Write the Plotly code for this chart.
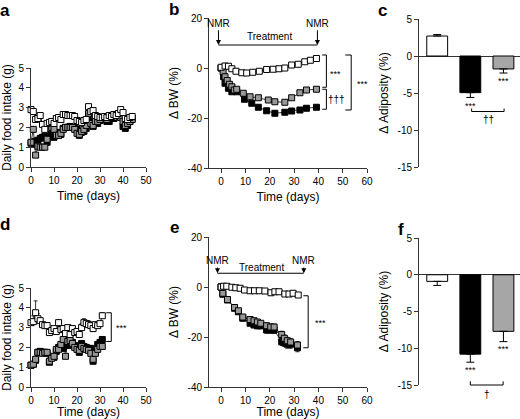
import plotly.graph_objects as go

W, H = 520, 419

# ---------------- DATA ----------------
# Panel a: daily food intake (g), days 0..44
a_days = list(range(0, 45))
a_white = [2.9, 2.8, 2.4, 2.45, 2.6, 2.15, 1.9, 2.2, 2.25, 2.3, 2.2, 2.45, 2.5, 2.4, 2.65, 2.65, 2.6, 2.6,
           2.6, 2.55, 2.35, 2.3, 2.25, 2.35, 2.4, 3.05, 2.8, 2.85, 2.6, 2.55, 2.5, 2.5, 2.55, 2.5, 2.6, 2.55,
           2.65, 2.6, 2.7, 2.9, 2.75, 2.45, 2.4, 2.5, 2.55]
a_black = [1.2, 1.15, 1.3, 1.35, 1.45, 1.5, 1.55, 1.25, 1.55, 1.65, 1.5, 1.75, 1.6, 1.65, 1.95, 2.0, 2.0, 2.05,
           2.0, 2.0, 1.9, 1.6, 1.75, 1.8, 1.95, 2.65, 2.3, 2.05, 2.2, 2.2, 2.35, 2.45, 2.5, 2.3, 2.3, 2.5,
           2.45, 2.6, 2.55, 2.5, 2.05, 1.95, 2.1, 2.3, 2.45]
a_gray = [1.25, 1.9, 0.6, 1.05, 1.0, 1.0, 1.0, 1.4, 1.95, 2.0, 1.9, 1.6, 1.6, 1.7, 1.9, 2.0, 2.0, 2.0,
          2.0, 1.9, 1.7, 1.65, 1.8, 1.9, 2.1, 2.7, 2.2, 2.1, 2.3, 2.3, 2.4, 2.5, 2.5, 2.4, 2.5, 2.5,
          2.5, 2.6, 2.7, 2.5, 2.3, 2.1, 2.2, 2.3, 2.4]

# Panel b: change in body weight (%)
b_white_days = [0, 1.6, 3, 4.4, 6.1, 8.5, 10.5, 13, 15.7, 18.7, 21.4, 23.8, 26.2, 29, 31.7, 34.4, 36.7, 39.2]
b_white = [0.3, 0.8, 0.7, -0.3, -1.3, -1.9, -2.0, -1.7, -1.3, -0.6, -0.5, -0.3, 0.0, 1.2, 1.5, 2.5, 3.1, 3.8]
b_gray_days = [0, 0.8, 1.6, 2.5, 3.4, 4.4, 5.4, 6.4, 9.1, 11.9, 15.3, 19.4, 22.1, 26.2, 29, 32.4, 35.1, 39.2]
b_gray = [0, -1.5, -3.5, -5.0, -6.5, -7.5, -8.8, -8.5, -10.1, -11.5, -11.9, -12.8, -13.5, -13.7, -11.9, -9.9, -8.8, -8.5]
b_black_days = [0, 1, 1.6, 3, 4.4, 6.4, 9.6, 12.6, 15.3, 18.7, 22.1, 26.2, 29, 32.4, 35.1, 39.2]
b_black = [0, -3.5, -6.1, -8.1, -9.5, -9.5, -12.5, -14.1, -15.7, -17.1, -18.1, -17.7, -17.2, -16.8, -16.1, -15.7]

# Panel c: change in adiposity (%)
groups = ["Control", "Treatment A", "Treatment B"]
c_vals = [2.7, -4.95, -1.75]
c_err = [0.2, 0.65, 0.55]

# Panel d: daily food intake (g), days 0..31
d_days = list(range(0, 32))
d_white = [3.25, 3.3, 3.75, 3.45, 3.35, 3.15, 3.1, 3.1, 2.75, 2.85, 2.95, 2.8, 3.25, 2.9, 2.95, 2.7, 3.0, 2.65,
           2.95, 2.75, 2.8, 2.65, 3.0, 3.25, 3.2, 3.15, 3.1, 2.95, 3.15, 3.1, 3.2, 3.6]
d_white_err = [0.15, 0.3, 0.6, 0.25, 0.1, 0.1, 0.1, 0.1, 0.1, 0.1, 0.1, 0.1, 0.15, 0.1, 0.1, 0.1, 0.1, 0.1,
               0.1, 0.1, 0.1, 0.1, 0.2, 0.2, 0.1, 0.2, 0.1, 0.3, 0.1, 0.1, 0.1, 0.15]
d_black = [1.1, 1.15, 1.35, 1.75, 1.8, 1.75, 1.75, 1.7, 1.25, 1.5, 1.5, 1.8, 2.0, 2.05, 1.95, 2.35, 2.1, 2.3,
           2.25, 2.1, 1.95, 1.75, 2.2, 2.05, 2.0, 1.95, 1.95, 1.3, 1.75, 2.15, 2.25, 2.4]
d_gray = [1.1, 1.15, 1.4, 1.75, 1.75, 1.7, 1.75, 1.75, 1.3, 1.45, 1.55, 1.9, 1.9, 2.15, 2.4, 1.55, 2.3, 2.35,
          2.2, 2.0, 1.9, 1.85, 2.05, 1.95, 1.9, 1.85, 1.7, 1.4, 1.7, 1.9, 2.05, 2.05]

# Panel e: change in body weight (%)
e_white_days = [0, 1, 2.3, 4.4, 6, 7.8, 9.6, 11.9, 13.7, 15.7, 18, 20.5, 22.1, 23.8, 26.2, 27.9, 29.6, 31.7]
e_white = [0, 0.3, 0.3, -0.1, -0.3, -0.5, -1.2, -1.5, -1.5, -1.5, -1.6, -2.3, -1.9, -1.9, -2.8, -2.8, -2.5, -3.2]
e_days = [0, 0.7, 2.6, 5.5, 7.1, 8.9, 11.9, 13.5, 14.9, 16.3, 18.7, 20.4, 21.8, 24.9, 26, 27.2, 28.6, 31.4]
e_black = [0, -2.9, -5.2, -8.5, -9.9, -12.5, -14.5, -15.2, -15.5, -15.5, -17.2, -17.2, -17.2, -21.9, -22.3, -22.9, -22.9, -24.3]
e_black_err = [0, 0, 0, 0.3, 0.3, 0.4, 0.8, 1.0, 1.2, 1.2, 1.3, 1.3, 1.3, 1.5, 1.5, 1.6, 1.6, 1.6]
e_gray = [0, -2.5, -5.0, -8.2, -9.5, -12.0, -13.0, -13.5, -14.0, -14.5, -15.5, -16.0, -16.0, -19.0, -20.5, -21.5, -22.0, -23.2]
e_gray_err = [0, 0, 0, 0.3, 0.3, 0.4, 0.8, 1.0, 1.0, 1.0, 1.2, 1.2, 1.2, 1.3, 1.3, 1.4, 1.4, 1.4]

# Panel f: change in adiposity (%)
f_vals = [-0.9, -10.8, -7.7]
f_err = [0.55, 1.1, 1.4]

# Tick labels
intake_ticks = [0, 1, 2, 3, 4, 5]
time_ticks = [0, 10, 20, 30, 40, 50]
bw_time_ticks = [0, 10, 20, 30, 40, 50, 60]
bw_ticks = [-40, -20, 0, 20]
bw_ticktext = ["-40", "-20", "0", "20"]
adip_ticks = [-15, -10, -5, 0, 5]
adip_ticktext = ["-15", "-10", "-5", "0", "5"]

# ---------------- STYLE / LAYOUT ----------------
FONT = "Liberation Sans, Arial, sans-serif"
WHITE, GRAY, BLACK = "#ffffff", "#999999", "#000000"
AXC = "#333333"


def dx(l, r):
    return [l / W, r / W]


def dy(top, bottom):
    return [1 - bottom / H, 1 - top / H]


AX = {
    "x": (dx(31, 146), [0, 50]), "y": (dy(68, 167), [0, 5]),
    "x2": (dx(209, 367), [-5, 60]), "y2": (dy(18, 168), [-40, 20]),
    "x3": (dx(419, 520), [-0.55, 2.5]), "y3": (dy(19, 167), [-15, 5]),
    "x4": (dx(31, 146), [0, 50]), "y4": (dy(288, 387), [0, 5]),
    "x5": (dx(209, 367), [-5, 60]), "y5": (dy(237, 387), [-40, 20]),
    "x6": (dx(419, 520), [-0.55, 2.5]), "y6": (dy(238, 385), [-15, 5]),
}


def P(ax, v):
    dom, rng = AX[ax]
    return dom[0] + (v - rng[0]) / (rng[1] - rng[0]) * (dom[1] - dom[0])


fig = go.Figure()


def series(x, y, fill, xa, ya, err=None, line=True):
    kw = {}
    if err is not None:
        kw["error_y"] = dict(type="data", array=err, arrayminus=[0] * len(err) if xa == "x4" else err,
                             symmetric=False, color="#000", thickness=0.8, width=2)
    fig.add_trace(go.Scatter(
        x=x, y=y, xaxis=xa, yaxis=ya, mode="lines+markers" if line else "markers",
        line=dict(color="#000", width=0.8),
        marker=dict(symbol="square", size=6, color=fill, line=dict(color="#000", width=1)),
        showlegend=False, cliponaxis=False, hoverinfo="skip", **kw))


# panel a
series(a_days, a_black, BLACK, "x", "y")
series(a_days, a_gray, GRAY, "x", "y")
series(a_days, a_white, WHITE, "x", "y")
# panel b
series(b_black_days, b_black, BLACK, "x2", "y2")
series(b_gray_days, b_gray, GRAY, "x2", "y2")
series(b_white_days, b_white, WHITE, "x2", "y2")
# panel d
series(d_days, d_black, BLACK, "x4", "y4")
series(d_days, d_gray, GRAY, "x4", "y4")
series(d_days, d_white, WHITE, "x4", "y4", err=d_white_err)
# panel e
series(e_days, e_black, BLACK, "x5", "y5", err=e_black_err)
series(e_days, e_gray, GRAY, "x5", "y5", err=e_gray_err)
series(e_white_days, e_white, WHITE, "x5", "y5")


def bars(vals, errs, xa, ya):
    up = [e if v > 0 else 0 for v, e in zip(vals, errs)]
    dn = [e if v < 0 else 0 for v, e in zip(vals, errs)]
    fig.add_trace(go.Bar(
        x=groups, y=vals, xaxis=xa, yaxis=ya, width=0.63,
        marker=dict(color=[WHITE, BLACK, "#a6a6a6"], line=dict(color="#000", width=1)),
        error_y=dict(type="data", array=up, arrayminus=dn, symmetric=False,
                     color="#000", thickness=1, width=4),
        showlegend=False, hoverinfo="skip"))


bars(c_vals, c_err, "x3", "y3")
bars(f_vals, f_err, "x6", "y6")

tickfont = dict(family=FONT, size=10, color="#000")
titlefont = dict(family=FONT, size=12, color="#000")
common = dict(showline=True, linecolor=AXC, linewidth=1, ticks="outside", ticklen=4, tickwidth=1,
              tickcolor=AXC, showgrid=False, zeroline=False, tickfont=tickfont, fixedrange=True,
              automargin=False)

layout = dict(
    width=W, height=H, margin=dict(l=0, r=0, t=0, b=0, autoexpand=False),
    paper_bgcolor="white", plot_bgcolor="white", font=dict(family=FONT, color="#000"),
    bargap=0, hovermode=False,
)
for xa, ya, kind in [("x", "y", "intake"), ("x4", "y4", "intake"),
                     ("x2", "y2", "bw"), ("x5", "y5", "bw")]:
    xn = "xaxis" + xa[1:]
    yn = "yaxis" + ya[1:]
    xtv = time_ticks if kind == "intake" else bw_time_ticks
    layout[xn] = dict(domain=AX[xa][0], range=AX[xa][1], anchor=ya, tickvals=xtv,
                      title=dict(text="Time (days)", font=titlefont, standoff=6), **common)
    if kind == "intake":
        layout[yn] = dict(domain=AX[ya][0], range=AX[ya][1], anchor=xa, tickvals=intake_ticks,
                          title=dict(text="Daily food intake (g)", font=titlefont, standoff=6), **common)
    else:
        layout[yn] = dict(domain=AX[ya][0], range=AX[ya][1], anchor=xa, tickvals=bw_ticks,
                          ticktext=bw_ticktext,
                          title=dict(text="Δ BW (%)", font=titlefont, standoff=6), **common)
for xa, ya in [("x3", "y3"), ("x6", "y6")]:
    xn = "xaxis" + xa[1:]
    yn = "yaxis" + ya[1:]
    layout[xn] = dict(domain=AX[xa][0], range=AX[xa][1], anchor=ya, visible=False, fixedrange=True,
                      automargin=False)
    c2 = dict(common)
    c2["zeroline"] = True
    c2["zerolinecolor"] = AXC
    c2["zerolinewidth"] = 1
    layout[yn] = dict(domain=AX[ya][0], range=AX[ya][1], anchor=xa, tickvals=adip_ticks,
                      ticktext=adip_ticktext,
                      title=dict(text="Δ Adiposity (%)", font=titlefont, standoff=6), **c2)

fig.update_layout(**layout)

shapes = []
annots = []
LINE = dict(color="#000", width=1)


def seg(xa, ya, x0, y0, x1, y1):
    shapes.append(dict(type="line", xref="paper", yref="paper",
                       x0=P(xa, x0), y0=P(ya, y0), x1=P(xa, x1), y1=P(ya, y1), line=LINE))


def vbracket(xa, ya, x, y0, y1, xt):
    seg(xa, ya, x, y0, x, y1)
    seg(xa, ya, xt, y0, x, y0)
    seg(xa, ya, xt, y1, x, y1)


def hbracket(xa, ya, x0, x1, y, yt):
    seg(xa, ya, x0, y, x1, y)
    seg(xa, ya, x0, y, x0, yt)
    seg(xa, ya, x1, y, x1, yt)


def text(xa, ya, x, y, s, size=10):
    # placed in paper coordinates so that texts outside an axis range still show
    annots.append(dict(x=P(xa, x), y=P(ya, y), xref="paper", yref="paper", text=s, showarrow=False,
                       xanchor="center", yanchor="middle",
                       font=dict(family=FONT, size=size, color="#000")))


def arrow(xa, ya, x, ytip, ytext):
    annots.append(dict(x=x, y=ytip, xref=xa, yref=ya, ax=x, ay=ytext, axref=xa, ayref=ya,
                       text="NMR", showarrow=True, arrowhead=2, arrowsize=1, arrowwidth=1,
                       arrowcolor="#000", standoff=0, startstandoff=0,
                       font=dict(family=FONT, size=10, color="#000")))


# panel b annotations
arrow("x2", "y2", -1.1, 9.2, 17.9)
arrow("x2", "y2", 39.6, 9.2, 17.9)
seg("x2", "y2", -1.1, 9.2, 39.6, 9.2)
text("x2", "y2", 20, 12.4, "Treatment")
vbracket("x2", "y2", 43.3, 5.2, -7.7, 41.6)
vbracket("x2", "y2", 43.3, -8.5, -16.5, 41.6)
vbracket("x2", "y2", 53.5, 5.2, -16.8, 51.1)
text("x2", "y2", 47, -2.2, "***", 9)
text("x2", "y2", 47.6, -12.5, "†††", 10)
text("x2", "y2", 58.3, -6.4, "***", 9)

# panel e annotations
arrow("x5", "y5", -1.5, 5.5, 10.6)
arrow("x5", "y5", 34.0, 5.5, 10.6)
seg("x5", "y5", -1.5, 5.5, 34.0, 5.5)
text("x5", "y5", 16.5, 7.9, "Treatment")
vbracket("x5", "y5", 35.8, -3.5, -24.3, 33.8)
text("x5", "y5", 41, -14.3, "***", 9)

# panel d annotations
vbracket("x4", "y4", 34.9, 3.75, 2.3, 32.7)
text("x4", "y4", 39.5, 2.98, "***", 9)

# panel c annotations
text("x3", "y3", 1, -6.7, "***", 9)
text("x3", "y3", 2, -3.4, "***", 9)
hbracket("x3", "y3", 1.04, 2.02, -7.5, -7.1)
text("x3", "y3", 1.55, -8.6, "††", 10)

# panel f annotations
text("x6", "y6", 1, -12.9, "***", 9)
text("x6", "y6", 2, -10.1, "***", 9)
hbracket("x6", "y6", 1.0, 1.99, -15.0, -14.5)
text("x6", "y6", 1.5, -16.3, "†", 10)

# panel letters
for s, px, py in [("a", 5, 10), ("b", 174, 9), ("c", 382, 11), ("d", 5, 224), ("e", 174, 227), ("f", 401, 230)]:
    annots.append(dict(x=px / W, y=1 - py / H, xref="paper", yref="paper", text="<b>%s</b>" % s,
                       xanchor="center", yanchor="middle", showarrow=False,
                       font=dict(family=FONT, size=17, color="#000")))

fig.update_layout(shapes=shapes, annotations=annots)
fig.write_html("out.html", config={"displayModeBar": False, "staticPlot": True},
               post_script="document.body.style.margin='0';document.body.style.overflow='hidden';")
